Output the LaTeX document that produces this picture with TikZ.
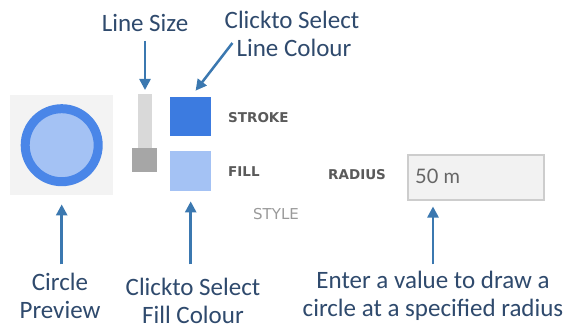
\documentclass[tikz,border=0pt]{standalone}
\usepackage{fontspec}
\setmainfont{Carlito}
\newfontfamily\uifont{DejaVu Sans}
\newfontfamily\valfont{Lato}
\usetikzlibrary{arrows.meta,calc}
\definecolor{labelc}{HTML}{2F4A6D}
\definecolor{arrowc}{HTML}{3B78B0}
\definecolor{strokec}{HTML}{3C7BE0}
\definecolor{fillc}{HTML}{A4C2F4}
\definecolor{ringc}{HTML}{4A86E8}
\definecolor{bgc}{HTML}{F3F3F3}
\definecolor{trackc}{HTML}{D9D9D9}
\definecolor{thumbc}{HTML}{A6A6A6}
\definecolor{uic}{HTML}{5A5A5A}
\definecolor{stylec}{HTML}{9A9A9A}
\definecolor{boxline}{HTML}{CDCDCD}
\definecolor{boxfill}{HTML}{F2F2F2}
\definecolor{valc}{HTML}{666666}
\begin{document}
\begin{tikzpicture}[x=1pt,y=-1pt,
  lbl/.style={font=\fontsize{25}{27.5}\selectfont, text=labelc, align=center, inner sep=0pt},
  arr/.style={draw=arrowc, line width=2.5pt, -{Triangle[width=11pt,length=11pt]}},
  ui/.style={font=\uifont\bfseries\fontsize{13.5}{15}\selectfont, text=uic, inner sep=0pt, anchor=west},
  blk/.style={inner sep=0pt, anchor=north west}]
\useasboundingbox[fill=white] (0,0) rectangle (571,329);

% preview
\node[blk, fill=bgc, minimum width=103pt, minimum height=100pt] (preview) at (10,95) {};
\draw[ringc, line width=9pt, fill=fillc] (preview.center) circle[radius=36.5pt];

% slider
\node[blk, fill=trackc, minimum width=14pt, minimum height=56pt] (track) at (138,94) {};
\node[blk, fill=thumbc, minimum width=25pt, minimum height=24pt] (thumb) at (132,148) {};

% colour squares
\node[blk, fill=strokec, minimum width=41pt, minimum height=39pt] (strokesq) at (170,97) {};
\node[blk, fill=fillc, minimum width=41pt, minimum height=40pt] (fillsq) at (170,151) {};

% ui texts
\node[ui] (stroketxt) at (228,118) {STROKE};
\node[ui] (filltxt) at (228,172) {FILL};
\node[ui] (radiustxt) at (328,175) {RADIUS};
\node[ui, font=\uifont\fontsize{15}{17}\selectfont, text=stylec] (styletxt) at (253,214) {STYLE};

% radius box
\node[blk, draw=boxline, fill=boxfill, line width=1.5pt, minimum width=136pt, minimum height=45pt] (rbox) at (407,154) {};
\node[inner sep=0pt, anchor=west, font=\valfont\fontsize{20}{22}\selectfont, text=valc] (val) at (415,176) {50 m};

% labels
\node[lbl] (linesize) at (145,23) {Line Size};
\node[lbl] (clk1) at (292,20) {Clickto Select};
\node[lbl] (lc) at (294,48) {Line Colour};
\node[lbl] (cp) at (60,296) {Circle\\Preview};
\node[lbl] (fc) at (193,301) {Clickto Select\\Fill Colour};
\node[lbl] (en) at (433,296) {Enter a value to draw a\\circle at a specified radius};

% arrows
\draw[arr, shorten <=9pt, shorten >=4pt] (linesize.south) -- (linesize.south |- track.north);
\draw[arr, shorten >=8pt] ($(lc.west)+(-4,-5)$) -- (strokesq.north);
\draw[arr, shorten <=9pt, shorten >=9pt] (preview.south |- cp.north) -- (preview.south);
\draw[arr, shorten <=14pt, shorten >=10pt] (fillsq.south |- fc.north) -- (fillsq.south);
\draw[arr, shorten <=7pt, shorten >=6pt] (en.north) -- (en.north |- rbox.south);
\end{tikzpicture}
\end{document}
